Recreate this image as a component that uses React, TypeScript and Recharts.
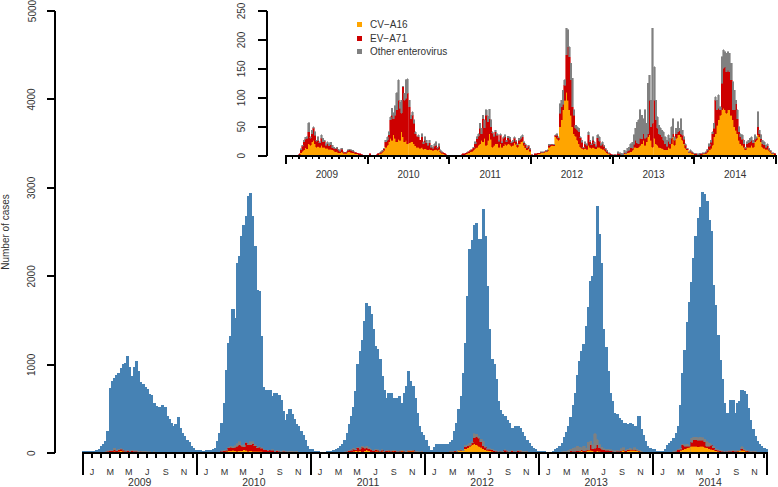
import React from 'react';
import { ComposedChart, Bar, XAxis, YAxis, Legend } from 'recharts';

const FONT = '"Liberation Sans", Arial, Helvetica, sans-serif';
const TEXT = '#333333';

const YEARS = ['2009', '2010', '2011', '2012', '2013', '2014'];
const MONTH_LABELS = ['J', 'M', 'M', 'J', 'S', 'N'];
const WEEKS_PER_YEAR = 52;
const MONTH_TICK_STEP = 4.2;

const MAIN_Y_TICKS = [0, 1000, 2000, 3000, 4000, 5000];
const INSET_Y_TICKS = [0, 50, 100, 150, 200, 250];

// Weekly number of HFMD cases (main chart, blue)
const TOTAL_2009 = [15,20,20,15,15,20,30,45,75,100,135,245,735,810,850,880,900,960,1000,1015,1090,970,870,970,1040,930,800,780,740,720,660,650,560,530,520,520,540,520,420,380,340,300,320,400,280,220,190,150,120,80,50,35];
const TOTAL_2010 = [30,30,25,25,30,35,35,40,55,130,225,340,565,940,1240,1320,1620,1525,2150,2220,2450,2580,2675,2900,2940,2675,2335,1845,1830,1320,740,715,715,715,640,680,680,650,600,470,375,435,490,435,380,320,300,245,200,150,75,40];
const TOTAL_2011 = [40,20,20,15,5,5,10,20,20,25,35,40,55,75,95,150,225,320,415,520,700,1000,1150,1280,1490,1695,1660,1565,1395,1205,1170,1055,865,715,620,680,680,620,620,620,640,565,680,750,920,810,750,620,450,300,240,200];
const TOTAL_2012 = [150,75,35,35,60,95,95,95,95,95,100,120,150,245,340,490,640,900,1245,1770,2300,2405,2580,2600,2420,2420,2760,2455,1890,1400,1060,1000,830,585,480,435,415,375,340,280,280,300,300,280,230,190,150,113,75,50,40,20];
const TOTAL_2013 = [25,20,15,10,5,5,20,40,55,80,113,180,230,300,400,545,680,885,1035,1150,1230,1430,1650,1940,2000,2220,2795,2470,2150,1400,1200,925,680,585,450,440,395,370,340,340,320,340,320,300,300,415,265,205,130,75,50,40];
const TOTAL_2014 = [40,25,20,15,20,45,90,110,130,170,220,300,545,905,1160,1480,1710,1930,2200,2450,2650,2780,2950,2920,2850,2630,2510,1900,1670,1330,1050,830,565,450,450,600,600,450,565,585,715,700,660,510,375,265,190,130,95,75,55,40];

// CV-A16 weekly counts
const CVA16_2009 = [0,0,1,0,0,1,0,1,2,5,8,10,14,12,21,18,24,27,21,15,16,15,18,15,15,13,13,11,11,10,9,7,8,5,5,7,4,4,4,7,7,6,5,4,3,3,2,2,1,1,1,1];
const CVA16_2010 = [1,2,0,1,0,1,2,3,4,6,9,15,18,24,30,27,36,30,24,28,27,41,33,24,27,21,22,24,24,21,17,15,15,13,15,11,12,11,10,11,10,9,10,11,9,11,6,4,3,2,1,1];
const CVA16_2011 = [1,0,1,0,1,0,1,1,2,2,3,4,5,7,8,9,13,15,18,21,27,24,30,18,27,38,28,15,18,21,21,15,21,15,17,21,18,21,20,16,18,22,20,15,21,24,25,18,14,10,12,8];
const CVA16_2012 = [1,1,2,2,3,3,5,5,6,7,8,15,16,18,17,33,30,27,50,62,79,96,110,96,79,70,50,38,34,27,21,15,13,11,13,11,18,15,13,15,13,12,15,15,13,11,11,8,5,3,2,1];
const CVA16_2013 = [1,1,1,2,2,1,2,3,3,5,6,7,9,15,15,14,15,18,21,27,18,24,33,36,27,15,30,21,18,15,14,13,11,10,10,15,13,21,33,18,30,36,36,33,27,21,13,10,5,6,4,3];
const CVA16_2014 = [2,2,1,2,2,3,3,4,6,10,13,18,33,38,53,62,70,79,82,79,73,79,79,70,62,50,44,38,27,21,18,15,10,15,15,15,18,15,24,27,36,33,24,15,13,11,11,9,6,3,3,2];

// EV-A71 weekly counts
const EVA71_2009 = [0,0,0,0,0,0,0,0,1,5,8,14,14,18,20,12,14,20,14,10,11,7,12,9,10,5,8,6,8,4,4,5,5,4,3,4,2,1,2,2,3,3,3,2,2,1,1,1,1,0,0,0];
const EVA71_2010 = [0,1,0,0,0,1,1,1,2,2,3,9,9,12,32,43,28,40,55,68,55,32,86,72,72,87,63,40,46,35,21,18,18,14,18,10,15,11,8,11,5,4,6,7,4,5,2,2,1,1,0,0];
const EVA71_2011 = [0,0,0,0,0,0,0,0,1,1,1,2,2,2,2,5,8,14,16,26,11,40,18,52,32,26,22,24,16,20,14,10,14,7,13,12,6,10,8,6,6,8,5,4,6,6,8,4,5,4,4,3];
const EVA71_2012 = [1,0,1,1,1,1,1,1,1,1,1,3,3,2,2,2,5,4,23,23,10,26,64,92,92,61,35,32,13,17,20,16,10,3,8,7,18,9,6,12,8,4,16,10,5,9,5,3,3,1,1,1];
const EVA71_2013 = [0,1,0,2,1,1,0,2,1,3,3,7,4,5,12,8,6,12,8,11,12,8,5,60,23,41,66,41,29,23,22,20,16,11,6,10,8,9,5,9,8,5,7,5,8,7,5,2,1,2,2,1];
const EVA71_2014 = [1,1,1,1,1,1,1,2,3,6,10,20,14,58,26,20,9,46,69,75,72,69,66,61,17,29,46,26,14,12,10,6,3,6,7,9,9,7,4,3,14,5,5,6,6,4,6,2,2,1,1,1];

// Other enterovirus weekly counts
const OTHER_2009 = [0,0,0,0,0,0,0,0,0,2,2,3,4,3,16,3,6,3,6,2,6,2,6,6,2,3,3,4,4,4,2,1,2,2,1,2,1,0,1,1,1,1,1,1,0,0,0,0,0,0,0,0];
const OTHER_2010 = [0,0,0,0,0,0,0,1,1,1,1,3,6,5,5,12,10,16,30,35,10,23,1,12,32,25,11,6,6,6,3,0,3,0,5,3,6,5,3,5,3,2,5,6,2,5,2,1,0,0,0,0];
const OTHER_2011 = [0,0,0,0,0,0,0,0,0,0,0,1,0,1,0,1,3,4,4,9,9,6,14,9,9,16,12,2,2,3,3,2,3,2,3,3,3,3,4,2,3,3,2,2,3,3,3,2,2,1,2,2];
const OTHER_2012 = [0,0,0,0,0,0,1,1,0,1,1,2,1,0,1,1,3,2,17,11,24,9,46,30,17,29,49,9,6,6,6,2,4,1,3,3,5,3,2,6,3,2,5,8,3,4,2,2,1,1,0,0];
const OTHER_2013 = [1,0,1,3,2,2,1,4,3,5,6,7,10,16,20,36,41,49,41,26,49,24,87,43,46,164,58,34,20,15,12,11,14,12,11,11,9,20,26,6,9,18,4,26,9,5,3,1,1,2,1,1];
const OTHER_2014 = [1,0,1,1,0,1,1,1,2,5,4,3,9,6,17,23,6,46,32,26,32,32,32,29,49,34,6,15,9,5,8,6,2,3,5,6,6,5,8,3,26,6,7,6,5,3,4,2,1,1,1,0];

const TOTALS = [TOTAL_2009, TOTAL_2010, TOTAL_2011, TOTAL_2012, TOTAL_2013, TOTAL_2014];
const CVA16 = [CVA16_2009, CVA16_2010, CVA16_2011, CVA16_2012, CVA16_2013, CVA16_2014];
const EVA71 = [EVA71_2009, EVA71_2010, EVA71_2011, EVA71_2012, EVA71_2013, EVA71_2014];
const OTHER = [OTHER_2009, OTHER_2010, OTHER_2011, OTHER_2012, OTHER_2013, OTHER_2014];

const SERIES = [
  { key: 'cv', name: 'CV\u2212A16', color: '#FFA500' },
  { key: 'ev', name: 'EV\u2212A71', color: '#CD0000' },
  { key: 'other', name: 'Other enterovirus', color: '#808080' },
];
const TOTAL_COLOR = '#4682B4';

const data = YEARS.flatMap((_, y) =>
  TOTALS[y].map((t, i) => ({
    w: y * WEEKS_PER_YEAR + i,
    total: t,
    cv: CVA16[y][i],
    ev: EVA71[y][i],
    other: OTHER[y][i],
  }))
);

const N_WEEKS = YEARS.length * WEEKS_PER_YEAR;

// layout
const W = 778;
const H = 487;
const MAIN = { top: 11, left: 55, gap: 27.7, right: 767.3, bottom: 453.3 };
const INSET = { top: 11, left: 266.7, gap: 19.3, right: 776, bottom: 155.7, height: 185 };
const MAIN_YEAR_PX = (MAIN.right - MAIN.left - MAIN.gap) / YEARS.length;
const INSET_YEAR_PX = (INSET.right - INSET.left - INSET.gap) / YEARS.length;

type TickInfo = { kind: 'year' | 'month' | 'label'; text?: string; last?: boolean };
const X_TICKS: number[] = [];
const X_TICK_INFO = new Map<number, TickInfo>();
for (let y = 0; y <= YEARS.length; y++) {
  const v = y * WEEKS_PER_YEAR;
  X_TICKS.push(v);
  X_TICK_INFO.set(v, { kind: 'year', last: y === YEARS.length });
}
for (let y = 0; y < YEARS.length; y++) {
  for (let k = 1; k <= 12; k++) {
    const v = y * WEEKS_PER_YEAR + k * MONTH_TICK_STEP;
    X_TICKS.push(v);
    X_TICK_INFO.set(v, { kind: 'month', text: k % 2 === 1 ? MONTH_LABELS[(k - 1) / 2] : undefined });
  }
  const c = y * WEEKS_PER_YEAR + WEEKS_PER_YEAR / 2;
  X_TICKS.push(c);
  X_TICK_INFO.set(c, { kind: 'label', text: YEARS[y] });
}

const textStyle = { shapeRendering: 'auto' as const };

const MainXTick = (props: any) => {
  const { x, y, payload } = props;
  const info = X_TICK_INFO.get(payload.value);
  if (!info) return <g />;
  if (info.kind === 'year') {
    return (
      <g>
        {!info.last ? (
          <line x1={x - 1} x2={x + MAIN_YEAR_PX + 1} y1={y} y2={y} stroke="#000" strokeWidth={2} />
        ) : null}
        <line x1={x} x2={x} y1={y - 1} y2={y + 22} stroke="#000" strokeWidth={2} />
      </g>
    );
  }
  if (info.kind === 'month') {
    return (
      <g>
        <line x1={x} x2={x} y1={y} y2={y + 4.5} stroke="#000" strokeWidth={2} />
        {info.text ? (
          <text x={x} y={y + 21.7} textAnchor="middle" fontSize={9} fill={TEXT} fontFamily={FONT} style={textStyle}>
            {info.text}
          </text>
        ) : null}
      </g>
    );
  }
  return (
    <text x={x} y={y + 32.5} textAnchor="middle" fontSize={10.5} fill={TEXT} fontFamily={FONT} style={textStyle}>
      {info.text}
    </text>
  );
};

const InsetXTick = (props: any) => {
  const { x, y, payload } = props;
  const info = X_TICK_INFO.get(payload.value);
  if (!info) return <g />;
  if (info.kind === 'year') {
    return (
      <g>
        {!info.last ? (
          <line x1={x - 1} x2={x + INSET_YEAR_PX + 1} y1={y} y2={y} stroke="#000" strokeWidth={2} />
        ) : null}
        <line x1={x} x2={x} y1={y - 1} y2={y + 8} stroke="#000" strokeWidth={2} />
      </g>
    );
  }
  if (info.kind === 'month') {
    return <line x1={x} x2={x} y1={y} y2={y + 3} stroke="#000" strokeWidth={1.5} />;
  }
  return (
    <text x={x} y={y + 22.6} textAnchor="middle" fontSize={10} fill={TEXT} fontFamily={FONT} style={textStyle}>
      {info.text}
    </text>
  );
};

const makeYTick = (dx: number) => (props: any) => {
  const { x, y, payload } = props;
  const cx = x - dx;
  return (
    <text
      x={cx}
      y={y}
      transform={`rotate(-90 ${cx} ${y})`}
      textAnchor="middle"
      dominantBaseline="central"
      fontSize={10}
      fill={TEXT}
      fontFamily={FONT}
      style={textStyle}
    >
      {payload.value}
    </text>
  );
};
const mainYTick = makeYTick(15);
const insetYTick = makeYTick(16);

const InsetLegend = () => (
  <svg width={140} height={46} style={{ overflow: 'visible' }}>
    {SERIES.map((s, i) => (
      <g key={s.key}>
        <rect x={2.3} y={5.2 + 13.5 * i} width={5} height={5} fill={s.color} />
        <text
          x={15}
          y={7.7 + 13.5 * i}
          dominantBaseline="central"
          fontSize={10}
          fill={TEXT}
          fontFamily={FONT}
          style={textStyle}
        >
          {s.name}
        </text>
      </g>
    ))}
  </svg>
);

export default function App() {
  return (
    <div
      style={{
        position: 'absolute',
        left: 0,
        top: 0,
        width: W,
        height: H,
        background: '#fff',
        overflow: 'hidden',
        shapeRendering: 'crispEdges',
      }}
    >
      {/* Main chart */}
      <div style={{ position: 'absolute', left: 0, top: 0 }}>
        <ComposedChart
          width={W}
          height={H}
          data={data}
          margin={{ top: MAIN.top, right: W - MAIN.right, bottom: 0, left: 0 }}
          barGap={0}
          barCategoryGap={0}
        >
          <XAxis
            xAxisId="t"
            dataKey="w"
            type="number"
            domain={[0, N_WEEKS]}
            ticks={X_TICKS}
            interval={0}
            tick={MainXTick}
            tickLine={false}
            axisLine={false}
            tickSize={0}
            tickMargin={0}
            height={H - MAIN.bottom}
            padding={{ left: MAIN.gap, right: 0 }}
            allowDataOverflow
          />
          <XAxis xAxisId="a" dataKey="w" type="category" hide height={0} padding={{ left: MAIN.gap, right: 0 }} />
          <XAxis xAxisId="b" dataKey="w" type="category" hide height={0} padding={{ left: MAIN.gap, right: 0 }} />
          <YAxis
            width={MAIN.left}
            domain={[0, 5000]}
            ticks={MAIN_Y_TICKS}
            interval={0}
            tickSize={8}
            tickMargin={0}
            axisLine={{ stroke: '#000', strokeWidth: 2 }}
            tickLine={{ stroke: '#000', strokeWidth: 2 }}
            tick={mainYTick}
            allowDataOverflow
          />
          <Bar
            xAxisId="a"
            dataKey="total"
            fill={TOTAL_COLOR}
            stroke={TOTAL_COLOR}
            strokeWidth={1}
            barSize={2.19}
            isAnimationActive={false}
          />
          {SERIES.map((s) => (
            <Bar
              key={s.key}
              xAxisId="b"
              dataKey={s.key}
              name={s.name}
              stackId="virus"
              fill={s.color}
              stroke={s.color}
              strokeWidth={0.6}
              barSize={2.19}
              isAnimationActive={false}
            />
          ))}
        </ComposedChart>
      </div>

      {/* Inset chart */}
      <div style={{ position: 'absolute', left: 0, top: 0 }}>
        <ComposedChart
          width={W}
          height={INSET.height}
          data={data}
          margin={{ top: INSET.top, right: W - INSET.right, bottom: 0, left: INSET.left - 30 }}
          barGap={0}
          barCategoryGap={0}
        >
          <XAxis
            xAxisId="t"
            dataKey="w"
            type="number"
            domain={[0, N_WEEKS]}
            ticks={X_TICKS}
            interval={0}
            tick={InsetXTick}
            tickLine={false}
            axisLine={false}
            tickSize={0}
            tickMargin={0}
            height={INSET.height - INSET.bottom}
            padding={{ left: INSET.gap, right: 0 }}
            allowDataOverflow
          />
          <XAxis xAxisId="a" dataKey="w" type="category" hide height={0} padding={{ left: INSET.gap, right: 0 }} />
          <YAxis
            width={30}
            domain={[0, 250]}
            ticks={INSET_Y_TICKS}
            interval={0}
            tickSize={9}
            tickMargin={0}
            axisLine={{ stroke: '#000', strokeWidth: 2 }}
            tickLine={{ stroke: '#000', strokeWidth: 2 }}
            tick={insetYTick}
            allowDataOverflow
          />
          {SERIES.map((s) => (
            <Bar
              key={s.key}
              xAxisId="a"
              dataKey={s.key}
              name={s.name}
              stackId="virus"
              fill={s.color}
              stroke={s.color}
              strokeWidth={0.6}
              barSize={1.57}
              isAnimationActive={false}
            />
          ))}
          <Legend
            layout="vertical"
            verticalAlign="middle"
            align="center"
            wrapperStyle={{ left: 355, top: 17, width: 140, height: 46 }}
            content={InsetLegend}
          />
        </ComposedChart>
      </div>

      {/* Y-axis title */}
      <svg
        width={20}
        height={H}
        style={{ position: 'absolute', left: 0, top: 0, overflow: 'visible' }}
      >
        <text
          x={5.5}
          y={232}
          transform="rotate(-90 5.5 232)"
          textAnchor="middle"
          dominantBaseline="central"
          fontSize={10}
          fill={TEXT}
          fontFamily={FONT}
        >
          Number of cases
        </text>
      </svg>
    </div>
  );
}
